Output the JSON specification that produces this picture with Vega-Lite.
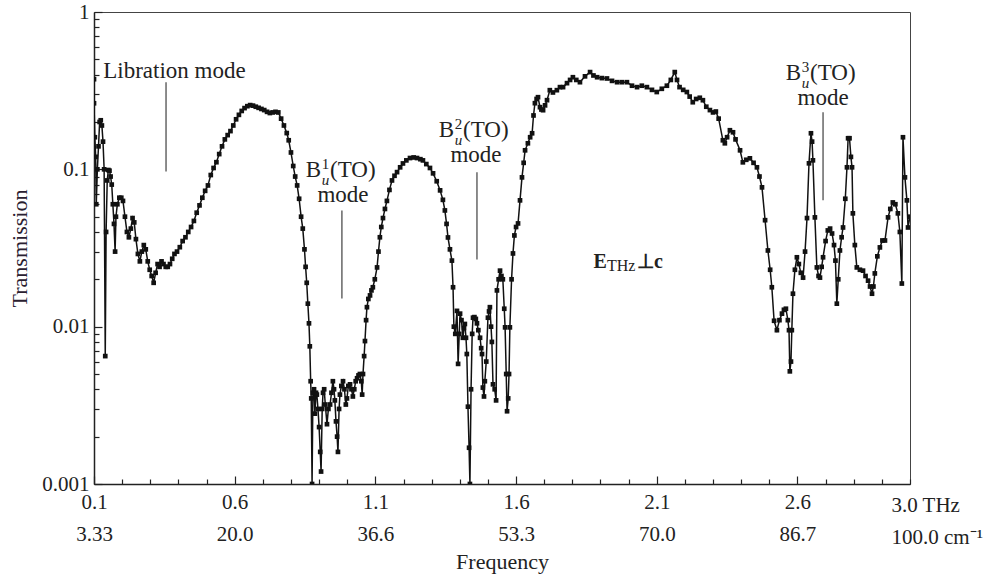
{
  "$schema": "https://vega.github.io/schema/vega-lite/v6.json",
  "width": 816,
  "height": 472,
  "autosize": "none",
  "padding": {"left": 94, "top": 12, "right": 93, "bottom": 95},
  "background": "white",
  "config": {"view": {"stroke": "#444", "strokeWidth": 1}, "font": "Liberation Serif", "axis": {"labelOverlap": false}},
  "datasets": {
    "spectrum": [
      {"f":0.100,"T":0.374},{"f":0.100,"T":0.263},{"f":0.103,"T":0.160},{"f":0.106,"T":0.120},{"f":0.108,"T":0.060},{"f":0.112,"T":0.100},{"f":0.116,"T":0.140},{"f":0.120,"T":0.200},{"f":0.124,"T":0.205},{"f":0.128,"T":0.190},{"f":0.132,"T":0.150},{"f":0.136,"T":0.100},{"f":0.140,"T":0.0065},{"f":0.143,"T":0.040},{"f":0.147,"T":0.085},{"f":0.151,"T":0.099},{"f":0.155,"T":0.098},{"f":0.159,"T":0.090},{"f":0.163,"T":0.080},{"f":0.167,"T":0.060},{"f":0.171,"T":0.045},{"f":0.175,"T":0.030},{"f":0.178,"T":0.050},{"f":0.183,"T":0.060},{"f":0.190,"T":0.066},{"f":0.197,"T":0.066},{"f":0.203,"T":0.063},{"f":0.210,"T":0.050},{"f":0.217,"T":0.040},{"f":0.224,"T":0.037},{"f":0.231,"T":0.042},{"f":0.237,"T":0.049},{"f":0.243,"T":0.046},{"f":0.249,"T":0.036},{"f":0.256,"T":0.029},{"f":0.263,"T":0.026},{"f":0.270,"T":0.030},{"f":0.277,"T":0.033},{"f":0.284,"T":0.031},{"f":0.291,"T":0.026},{"f":0.298,"T":0.023},{"f":0.305,"T":0.021},{"f":0.312,"T":0.019},{"f":0.319,"T":0.022},{"f":0.326,"T":0.025},{"f":0.333,"T":0.024},{"f":0.340,"T":0.026},{"f":0.347,"T":0.025},{"f":0.355,"T":0.024},{"f":0.362,"T":0.024},{"f":0.370,"T":0.025},{"f":0.378,"T":0.027},{"f":0.386,"T":0.029},{"f":0.395,"T":0.030},{"f":0.405,"T":0.032},{"f":0.415,"T":0.035},{"f":0.425,"T":0.037},{"f":0.435,"T":0.040},{"f":0.445,"T":0.043},{"f":0.455,"T":0.047},{"f":0.465,"T":0.053},{"f":0.475,"T":0.059},{"f":0.485,"T":0.066},{"f":0.495,"T":0.073},{"f":0.505,"T":0.079},{"f":0.515,"T":0.092},{"f":0.525,"T":0.102},{"f":0.535,"T":0.111},{"f":0.545,"T":0.125},{"f":0.555,"T":0.140},{"f":0.565,"T":0.155},{"f":0.575,"T":0.165},{"f":0.585,"T":0.175},{"f":0.595,"T":0.190},{"f":0.605,"T":0.208},{"f":0.615,"T":0.222},{"f":0.625,"T":0.235},{"f":0.635,"T":0.245},{"f":0.645,"T":0.252},{"f":0.655,"T":0.256},{"f":0.665,"T":0.254},{"f":0.675,"T":0.250},{"f":0.685,"T":0.246},{"f":0.695,"T":0.242},{"f":0.705,"T":0.238},{"f":0.715,"T":0.232},{"f":0.725,"T":0.228},{"f":0.735,"T":0.230},{"f":0.745,"T":0.232},{"f":0.755,"T":0.230},{"f":0.765,"T":0.210},{"f":0.775,"T":0.190},{"f":0.785,"T":0.170},{"f":0.792,"T":0.153},{"f":0.800,"T":0.128},{"f":0.808,"T":0.105},{"f":0.815,"T":0.090},{"f":0.822,"T":0.079},{"f":0.829,"T":0.065},{"f":0.836,"T":0.050},{"f":0.842,"T":0.042},{"f":0.848,"T":0.031},{"f":0.852,"T":0.024},{"f":0.856,"T":0.019},{"f":0.860,"T":0.014},{"f":0.864,"T":0.0105},{"f":0.867,"T":0.0075},{"f":0.870,"T":0.0045},{"f":0.872,"T":0.0035},{"f":0.875,"T":0.0010},{"f":0.878,"T":0.0038},{"f":0.882,"T":0.0040},{"f":0.885,"T":0.0028},{"f":0.889,"T":0.0038},{"f":0.892,"T":0.0037},{"f":0.896,"T":0.0030},{"f":0.900,"T":0.0023},{"f":0.904,"T":0.0016},{"f":0.907,"T":0.0012},{"f":0.911,"T":0.0030},{"f":0.914,"T":0.0038},{"f":0.918,"T":0.0040},{"f":0.922,"T":0.0032},{"f":0.928,"T":0.0024},{"f":0.933,"T":0.0030},{"f":0.939,"T":0.0032},{"f":0.944,"T":0.0038},{"f":0.949,"T":0.0045},{"f":0.953,"T":0.0040},{"f":0.956,"T":0.0034},{"f":0.960,"T":0.0025},{"f":0.964,"T":0.0020},{"f":0.967,"T":0.0016},{"f":0.971,"T":0.0030},{"f":0.974,"T":0.0037},{"f":0.979,"T":0.0042},{"f":0.985,"T":0.0045},{"f":0.990,"T":0.0040},{"f":0.995,"T":0.0032},{"f":0.999,"T":0.0035},{"f":1.004,"T":0.0042},{"f":1.010,"T":0.0043},{"f":1.015,"T":0.0040},{"f":1.020,"T":0.0036},{"f":1.025,"T":0.0040},{"f":1.030,"T":0.0045},{"f":1.035,"T":0.0047},{"f":1.040,"T":0.0049},{"f":1.045,"T":0.0050},{"f":1.050,"T":0.0045},{"f":1.053,"T":0.0037},{"f":1.056,"T":0.0050},{"f":1.060,"T":0.0065},{"f":1.063,"T":0.0081},{"f":1.067,"T":0.0110},{"f":1.070,"T":0.0133},{"f":1.075,"T":0.0150},{"f":1.081,"T":0.0158},{"f":1.086,"T":0.0170},{"f":1.091,"T":0.0178},{"f":1.098,"T":0.0200},{"f":1.106,"T":0.0238},{"f":1.111,"T":0.0300},{"f":1.116,"T":0.0370},{"f":1.121,"T":0.0430},{"f":1.127,"T":0.0490},{"f":1.134,"T":0.0560},{"f":1.141,"T":0.0630},{"f":1.150,"T":0.0740},{"f":1.159,"T":0.0850},{"f":1.168,"T":0.0910},{"f":1.177,"T":0.0960},{"f":1.188,"T":0.1030},{"f":1.198,"T":0.1090},{"f":1.210,"T":0.1140},{"f":1.223,"T":0.1180},{"f":1.236,"T":0.1190},{"f":1.248,"T":0.1180},{"f":1.260,"T":0.1160},{"f":1.269,"T":0.1140},{"f":1.281,"T":0.1080},{"f":1.294,"T":0.1020},{"f":1.305,"T":0.0943},{"f":1.318,"T":0.0840},{"f":1.330,"T":0.0735},{"f":1.340,"T":0.0640},{"f":1.347,"T":0.0548},{"f":1.353,"T":0.0450},{"f":1.358,"T":0.0369},{"f":1.365,"T":0.0310},{"f":1.372,"T":0.0263},{"f":1.376,"T":0.0178},{"f":1.379,"T":0.0100},{"f":1.384,"T":0.0090},{"f":1.390,"T":0.0126},{"f":1.394,"T":0.0058},{"f":1.398,"T":0.0090},{"f":1.401,"T":0.0121},{"f":1.406,"T":0.0110},{"f":1.411,"T":0.0085},{"f":1.415,"T":0.0098},{"f":1.418,"T":0.0104},{"f":1.422,"T":0.0085},{"f":1.425,"T":0.0067},{"f":1.429,"T":0.0031},{"f":1.433,"T":0.0017},{"f":1.436,"T":0.0010},{"f":1.440,"T":0.0040},{"f":1.444,"T":0.0090},{"f":1.447,"T":0.0114},{"f":1.452,"T":0.0115},{"f":1.457,"T":0.0112},{"f":1.461,"T":0.0105},{"f":1.466,"T":0.0095},{"f":1.472,"T":0.0085},{"f":1.476,"T":0.0073},{"f":1.479,"T":0.0067},{"f":1.482,"T":0.0041},{"f":1.486,"T":0.0036},{"f":1.489,"T":0.0045},{"f":1.494,"T":0.0060},{"f":1.500,"T":0.0114},{"f":1.504,"T":0.0125},{"f":1.507,"T":0.0133},{"f":1.511,"T":0.0100},{"f":1.514,"T":0.0080},{"f":1.518,"T":0.0043},{"f":1.524,"T":0.0040},{"f":1.529,"T":0.0034},{"f":1.532,"T":0.0170},{"f":1.538,"T":0.0200},{"f":1.543,"T":0.0227},{"f":1.548,"T":0.0210},{"f":1.553,"T":0.0200},{"f":1.558,"T":0.0130},{"f":1.561,"T":0.0099},{"f":1.565,"T":0.0050},{"f":1.568,"T":0.0029},{"f":1.572,"T":0.0035},{"f":1.575,"T":0.0050},{"f":1.578,"T":0.0099},{"f":1.584,"T":0.0200},{"f":1.589,"T":0.0292},{"f":1.594,"T":0.0380},{"f":1.600,"T":0.0430},{"f":1.607,"T":0.0453},{"f":1.614,"T":0.0635},{"f":1.621,"T":0.0889},{"f":1.627,"T":0.1100},{"f":1.632,"T":0.1321},{"f":1.642,"T":0.1464},{"f":1.650,"T":0.1600},{"f":1.657,"T":0.1695},{"f":1.662,"T":0.2200},{"f":1.667,"T":0.2633},{"f":1.673,"T":0.2800},{"f":1.678,"T":0.2874},{"f":1.685,"T":0.2483},{"f":1.690,"T":0.2400},{"f":1.696,"T":0.2376},{"f":1.703,"T":0.2550},{"f":1.710,"T":0.2751},{"f":1.720,"T":0.3185},{"f":1.731,"T":0.3080},{"f":1.745,"T":0.3185},{"f":1.756,"T":0.3330},{"f":1.767,"T":0.3330},{"f":1.781,"T":0.3530},{"f":1.792,"T":0.3700},{"f":1.802,"T":0.3850},{"f":1.814,"T":0.3700},{"f":1.827,"T":0.3580},{"f":1.845,"T":0.3900},{"f":1.863,"T":0.4150},{"f":1.875,"T":0.3950},{"f":1.888,"T":0.3850},{"f":1.905,"T":0.3800},{"f":1.923,"T":0.3780},{"f":1.941,"T":0.3650},{"f":1.959,"T":0.3580},{"f":1.976,"T":0.3580},{"f":1.994,"T":0.3580},{"f":2.012,"T":0.3400},{"f":2.030,"T":0.3330},{"f":2.047,"T":0.3400},{"f":2.065,"T":0.3330},{"f":2.083,"T":0.3200},{"f":2.100,"T":0.3100},{"f":2.118,"T":0.3250},{"f":2.136,"T":0.3400},{"f":2.150,"T":0.3700},{"f":2.164,"T":0.4150},{"f":2.172,"T":0.3700},{"f":2.181,"T":0.3330},{"f":2.194,"T":0.3200},{"f":2.207,"T":0.3100},{"f":2.217,"T":0.2900},{"f":2.228,"T":0.2670},{"f":2.240,"T":0.2800},{"f":2.253,"T":0.2850},{"f":2.264,"T":0.2750},{"f":2.276,"T":0.2500},{"f":2.289,"T":0.2380},{"f":2.300,"T":0.2300},{"f":2.310,"T":0.2330},{"f":2.320,"T":0.2100},{"f":2.335,"T":0.1530},{"f":2.342,"T":0.1464},{"f":2.350,"T":0.1600},{"f":2.360,"T":0.1772},{"f":2.371,"T":0.1720},{"f":2.380,"T":0.1550},{"f":2.396,"T":0.1321},{"f":2.406,"T":0.1108},{"f":2.418,"T":0.1150},{"f":2.431,"T":0.1175},{"f":2.444,"T":0.1100},{"f":2.456,"T":0.1030},{"f":2.465,"T":0.0900},{"f":2.474,"T":0.0768},{"f":2.485,"T":0.0475},{"f":2.495,"T":0.0305},{"f":2.503,"T":0.0230},{"f":2.509,"T":0.0178},{"f":2.517,"T":0.0109},{"f":2.527,"T":0.0095},{"f":2.536,"T":0.0110},{"f":2.545,"T":0.0121},{"f":2.552,"T":0.0128},{"f":2.559,"T":0.0130},{"f":2.566,"T":0.0110},{"f":2.570,"T":0.0095},{"f":2.573,"T":0.0052},{"f":2.577,"T":0.0060},{"f":2.580,"T":0.0095},{"f":2.584,"T":0.0162},{"f":2.591,"T":0.0230},{"f":2.598,"T":0.0276},{"f":2.605,"T":0.0250},{"f":2.612,"T":0.0220},{"f":2.620,"T":0.0205},{"f":2.627,"T":0.0300},{"f":2.634,"T":0.0490},{"f":2.641,"T":0.1092},{"f":2.648,"T":0.1695},{"f":2.652,"T":0.1500},{"f":2.655,"T":0.1141},{"f":2.662,"T":0.0495},{"f":2.669,"T":0.0238},{"f":2.675,"T":0.0210},{"f":2.680,"T":0.0205},{"f":2.686,"T":0.0240},{"f":2.691,"T":0.0276},{"f":2.700,"T":0.0350},{"f":2.708,"T":0.0409},{"f":2.716,"T":0.0420},{"f":2.723,"T":0.0391},{"f":2.730,"T":0.0330},{"f":2.735,"T":0.0263},{"f":2.740,"T":0.0140},{"f":2.745,"T":0.0200},{"f":2.751,"T":0.0305},{"f":2.757,"T":0.0370},{"f":2.762,"T":0.0427},{"f":2.770,"T":0.0650},{"f":2.776,"T":0.1030},{"f":2.780,"T":0.1576},{"f":2.785,"T":0.1576},{"f":2.790,"T":0.1200},{"f":2.794,"T":0.1030},{"f":2.797,"T":0.0525},{"f":2.804,"T":0.0330},{"f":2.811,"T":0.0238},{"f":2.822,"T":0.0230},{"f":2.833,"T":0.0227},{"f":2.842,"T":0.0210},{"f":2.851,"T":0.0196},{"f":2.858,"T":0.0180},{"f":2.865,"T":0.0162},{"f":2.870,"T":0.0180},{"f":2.875,"T":0.0218},{"f":2.884,"T":0.0280},{"f":2.893,"T":0.0319},{"f":2.902,"T":0.0353},{"f":2.911,"T":0.0353},{"f":2.922,"T":0.0495},{"f":2.930,"T":0.0560},{"f":2.939,"T":0.0616},{"f":2.948,"T":0.0600},{"f":2.957,"T":0.0525},{"f":2.964,"T":0.0400},{"f":2.971,"T":0.0188},{"f":2.975,"T":0.1599},{"f":2.982,"T":0.0889},{"f":2.989,"T":0.0635},{"f":2.993,"T":0.0427},{"f":3.000,"T":0.0500}
    ],
    "lines": [
      {"f": 0.356, "T": 0.358, "T2": 0.097},
      {"f": 0.981, "T": 0.0548, "T2": 0.01508},
      {"f": 1.461, "T": 0.0957, "T2": 0.0267},
      {"f": 2.691, "T": 0.2307, "T2": 0.0635}
    ],
    "modes": [
      {"f": 0.985, "T": 0.0683, "sup": "1"},
      {"f": 1.4575, "T": 0.1228, "sup": "2"},
      {"f": 2.691, "T": 0.2834, "sup": "3"}
    ],
    "lib": [{"f": 0.386, "T": 0.421, "label": "Libration mode"}],
    "eth": [{"f": 1.923, "T": 0.0256}]
  },
  "encoding": {
    "x": {
      "field": "f", "type": "quantitative",
      "scale": {"domain": [0.1, 3.0], "nice": false, "zero": false},
      "axis": {
        "values": [0.1,0.2,0.3,0.4,0.5,0.6,0.7,0.8,0.9,1.0,1.1,1.2,1.3,1.4,1.5,1.6,1.7,1.8,1.9,2.0,2.1,2.2,2.3,2.4,2.5,2.6,2.7,2.8,2.9,3.0],
        "title": "Frequency",
        "titleFont": "Liberation Serif", "titleFontSize": 22, "titleFontWeight": "normal", "titleColor": "#222", "titlePadding": 4,
        "labelExpr": "abs(datum.value-0.1)<0.01 ? ['0.1','3.33'] : abs(datum.value-0.6)<0.01 ? ['0.6','20.0'] : abs(datum.value-1.1)<0.01 ? ['1.1','36.6'] : abs(datum.value-1.6)<0.01 ? ['1.6','53.3'] : abs(datum.value-2.1)<0.01 ? ['2.1','70.0'] : abs(datum.value-2.6)<0.01 ? ['2.6','86.7'] : abs(datum.value-3.0)<0.01 ? ['3.0 THz','100.0 cm⁻¹'] : ''",
        "labelFont": "Liberation Serif", "labelFontSize": 21, "labelColor": "#222", "labelLineHeight": 32,
        "labelPadding": 15, "labelFlush": false, "labelOverlap": false, "labelBound": false,
        "labelAlign": {"condition": {"test": "datum.value > 2.95", "value": "left"}, "value": "center"},
        "labelOffset": {"condition": {"test": "datum.value > 2.95", "value": -19}, "value": 0},
        "tickSize": {"condition": {"test": "round(datum.value*10-1) % 5 == 0", "value": -8}, "value": -5},
        "tickColor": "#222", "tickWidth": 1.2, "domainColor": "#222", "domainWidth": 1.5, "grid": false
      }
    },
    "y": {
      "field": "T", "type": "quantitative",
      "scale": {"type": "log", "domain": [0.001, 1], "nice": false},
      "axis": {
        "values": [0.001,0.002,0.003,0.004,0.005,0.006,0.007,0.008,0.009,0.01,0.02,0.03,0.04,0.05,0.06,0.07,0.08,0.09,0.1,0.2,0.3,0.4,0.5,0.6,0.7,0.8,0.9,1],
        "title": "Transmission",
        "titleFont": "Liberation Serif", "titleFontSize": 22, "titleFontWeight": "normal", "titleColor": "#2a2030", "titlePadding": 10,
        "labelExpr": "datum.value == 1 ? '1' : datum.value == 0.1 ? '0.1' : datum.value == 0.01 ? '0.01' : datum.value == 0.001 ? '0.001' : ''",
        "labelFont": "Liberation Serif", "labelFontSize": 21, "labelColor": "#222",
        "labelPadding": 13, "labelFlush": false, "labelOverlap": false, "labelBound": false,
        "tickSize": {"condition": {"test": "datum.value == 1 || datum.value == 0.1 || datum.value == 0.01 || datum.value == 0.001", "value": -8}, "value": -5},
        "tickColor": "#222", "tickWidth": 1.2, "domainColor": "#222", "domainWidth": 1.5, "grid": false
      }
    }
  },
  "layer": [
    {
      "data": {"name": "spectrum"},
      "mark": {"type": "line", "color": "#111", "strokeWidth": 1.5, "clip": true,
               "point": {"shape": "square", "filled": true, "color": "#111", "size": 22, "opacity": 1}}
    },
    {
      "data": {"name": "lines"},
      "mark": {"type": "rule", "color": "#666", "strokeWidth": 1.5},
      "encoding": {"y2": {"field": "T2"}}
    },
    {
      "data": {"name": "lib"},
      "mark": {"type": "text", "font": "Liberation Serif", "fontSize": 23, "color": "#222", "align": "center", "baseline": "middle"},
      "encoding": {"text": {"field": "label"}}
    },
    {
      "data": {"name": "modes"},
      "mark": {"type": "text", "text": "mode", "font": "Liberation Serif", "fontSize": 23, "color": "#222", "align": "center", "baseline": "middle"}
    },
    {
      "data": {"name": "modes"},
      "mark": {"type": "text", "text": "(TO)", "font": "Liberation Serif", "fontSize": 23, "color": "#222", "align": "left", "baseline": "middle", "dx": -13, "dy": -25}
    },
    {
      "data": {"name": "modes"},
      "mark": {"type": "text", "text": "B", "font": "Liberation Serif", "fontSize": 23, "color": "#222", "align": "right", "baseline": "middle", "dx": -22, "dy": -25}
    },
    {
      "data": {"name": "modes"},
      "mark": {"type": "text", "font": "Liberation Serif", "fontSize": 15, "color": "#222", "align": "center", "baseline": "middle", "dx": -17.5, "dy": -31},
      "encoding": {"text": {"field": "sup"}}
    },
    {
      "data": {"name": "modes"},
      "mark": {"type": "text", "text": "u", "font": "Liberation Serif", "fontSize": 15, "fontStyle": "italic", "color": "#222", "align": "center", "baseline": "middle", "dx": -17.5, "dy": -15}
    },
    {
      "data": {"name": "eth"},
      "mark": {"type": "text", "text": "E", "font": "Liberation Serif", "fontSize": 20, "fontWeight": "bold", "color": "#222", "align": "right", "baseline": "middle"}
    },
    {
      "data": {"name": "eth"},
      "mark": {"type": "text", "text": "THz", "font": "Liberation Serif", "fontSize": 16, "color": "#222", "align": "left", "baseline": "middle", "dy": 4}
    },
    {
      "data": {"name": "eth"},
      "mark": {"type": "text", "text": "⊥c", "font": "Liberation Serif", "fontSize": 20, "fontWeight": "bold", "color": "#222", "align": "left", "baseline": "middle", "dx": 30}
    }
  ]
}
